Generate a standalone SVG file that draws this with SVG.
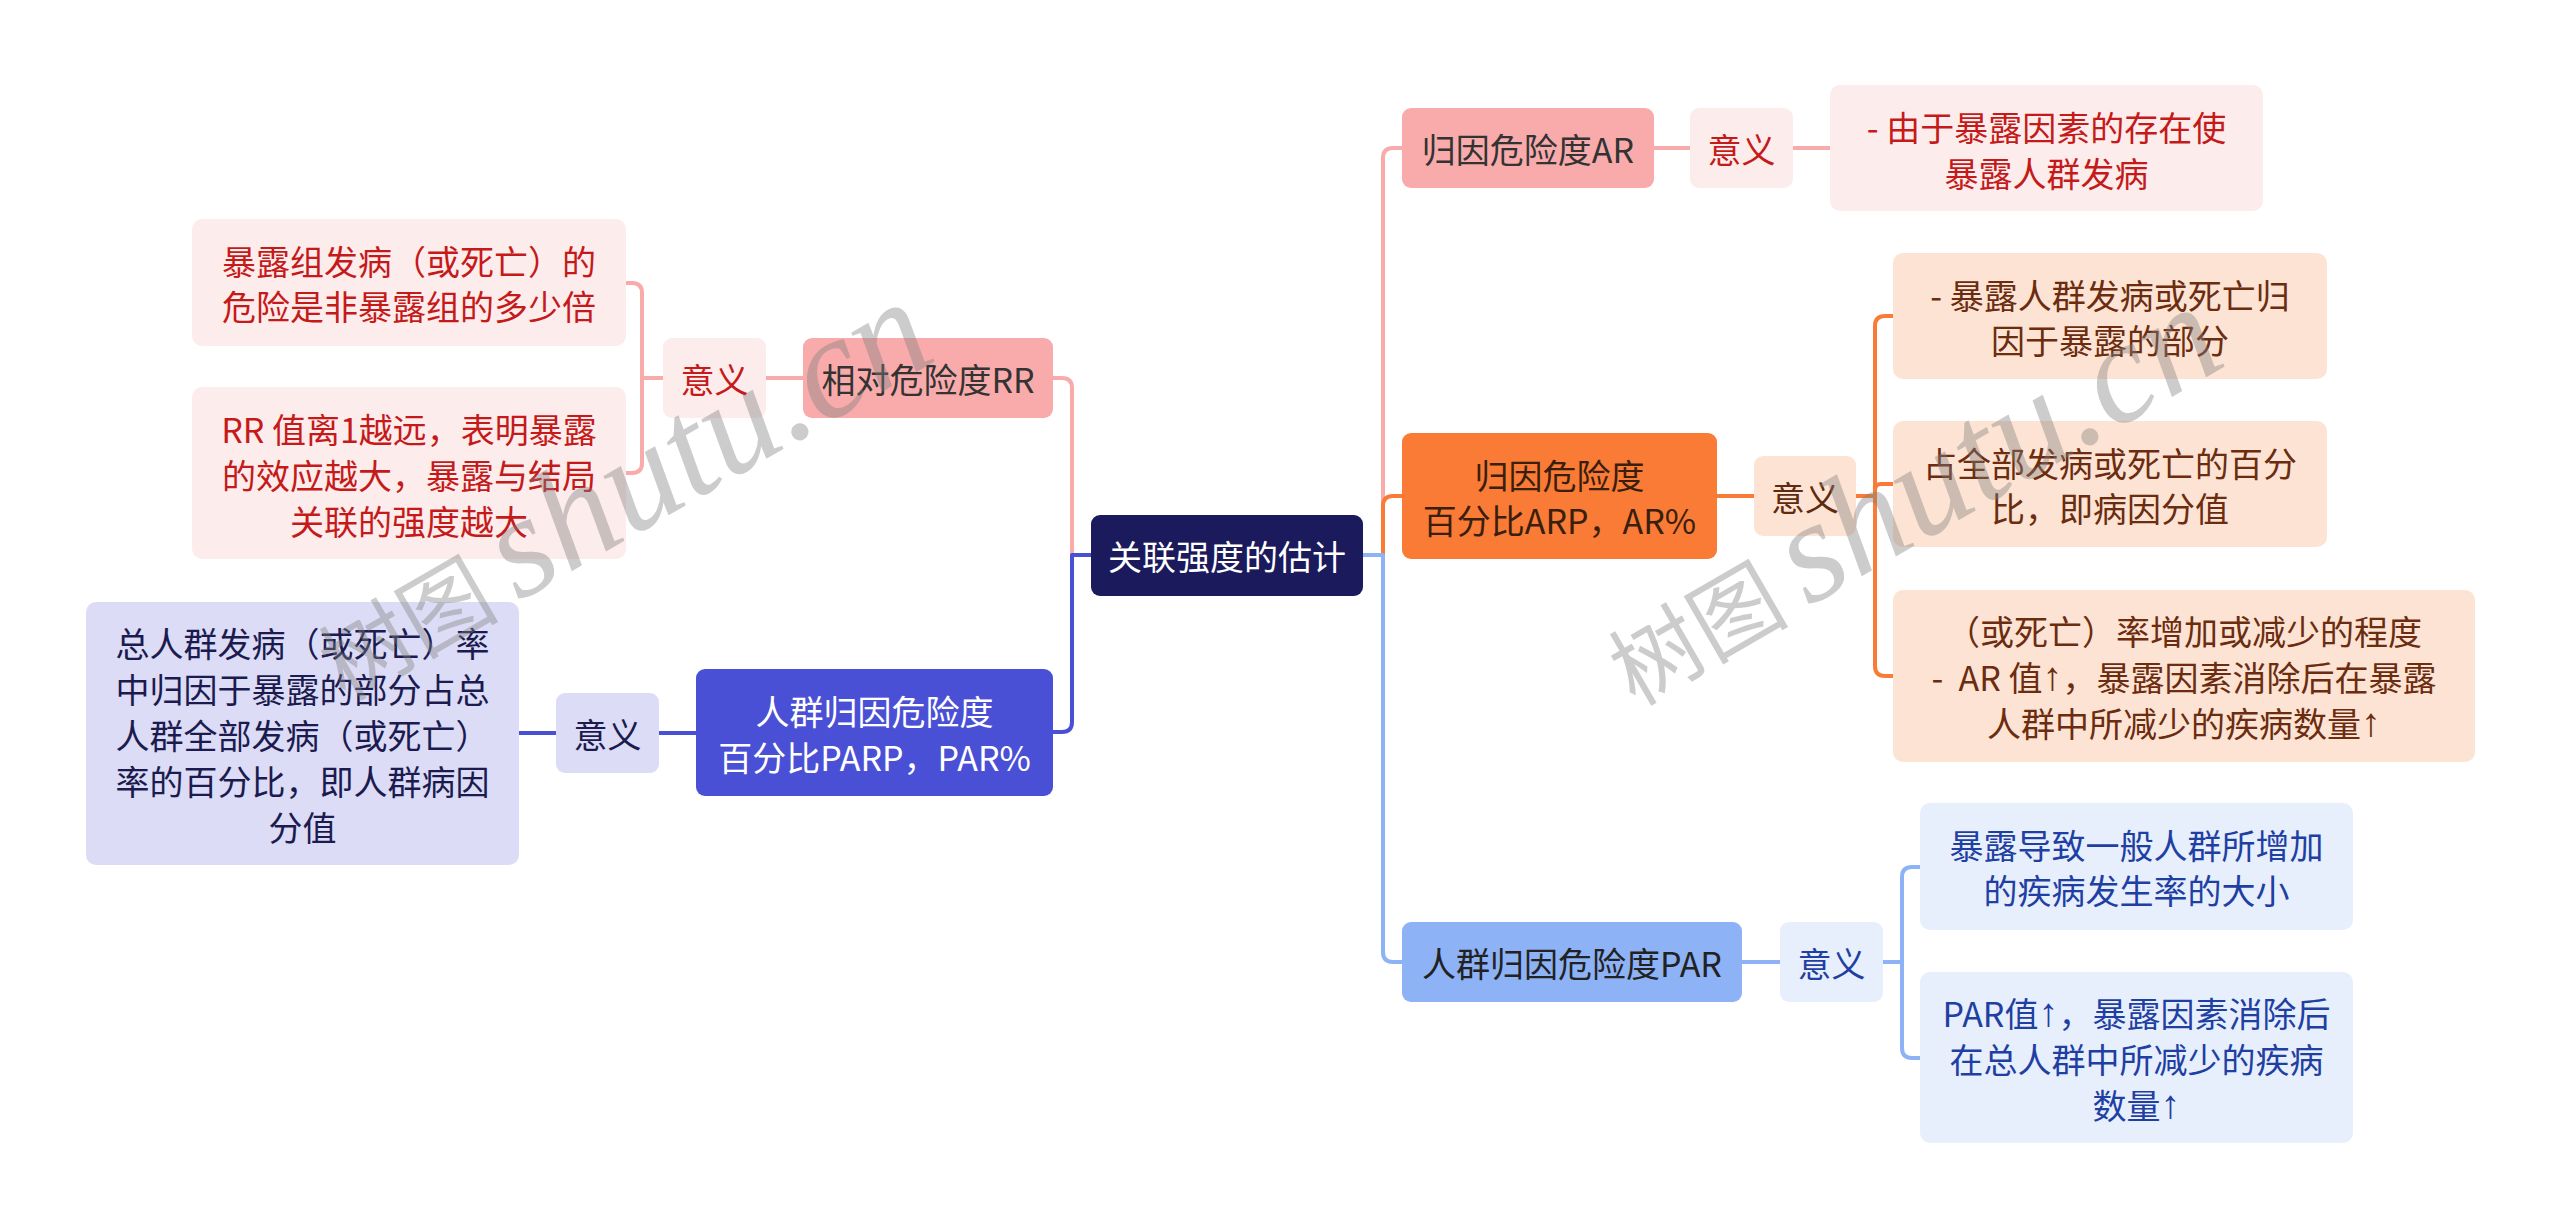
<svg xmlns="http://www.w3.org/2000/svg" width="2560" height="1229" viewBox="0 0 2560 1229">
<style>
text{font-family:"Noto Sans CJK SC","Noto Sans",sans-serif;font-size:34px;text-anchor:middle;dominant-baseline:central}
.ar{font-family:"Liberation Sans","DejaVu Sans",sans-serif;font-size:40px}
.c{fill:none;stroke-width:4;stroke-linecap:round;stroke-linejoin:round}
.pk{stroke:#f9abab}.bl{stroke:#4a50d6}.or{stroke:#f97b35}.lb{stroke:#8db3f6}
.wm{font-family:"Noto Sans CJK SC",serif;font-size:90px;text-anchor:start;dominant-baseline:alphabetic;fill:#808080;fill-opacity:0.4}
.wl{font-family:"Liberation Serif",serif;font-style:italic;font-size:145px}
</style>
<rect width="2560" height="1229" fill="#ffffff"/>
<g id="connectors">
<path class="c pk" d="M1091 555 H1072 V388 Q1072 378 1062 378 H1053"/>
<path class="c bl" d="M1091 555 H1072 V722 Q1072 732 1062 732 H1053"/>
<path class="c pk" d="M1363 555 H1383 V158 Q1383 148 1393 148 H1402"/>
<path class="c or" d="M1363 555 H1383 V506 Q1383 496 1393 496 H1402"/>
<path class="c lb" d="M1363 555 H1383 V952 Q1383 962 1393 962 H1402"/>
<path class="c pk" d="M803 378 H766"/>
<path class="c pk" d="M663 378 H642 V293 Q642 283 632 283 H626"/>
<path class="c pk" d="M663 378 H642 V463 Q642 473 632 473 H626"/>
<path class="c bl" d="M696 733 H659"/>
<path class="c bl" d="M556 733 H519"/>
<path class="c pk" d="M1654 148 H1690"/>
<path class="c pk" d="M1793 148 H1830"/>
<path class="c or" d="M1717 496 H1754"/>
<path class="c or" d="M1856 496 H1875 V326 Q1875 316 1885 316 H1893"/>
<path class="c or" d="M1856 496 H1875 V490 Q1875 484 1881 484 H1893"/>
<path class="c or" d="M1856 496 H1875 V666 Q1875 676 1885 676 H1893"/>
<path class="c lb" d="M1742 962 H1780"/>
<path class="c lb" d="M1883 962 H1902 V877 Q1902 867 1912 867 H1920"/>
<path class="c lb" d="M1883 962 H1902 V1048 Q1902 1058 1912 1058 H1920"/>
</g>
<g id="root">
<rect x="1091" y="515" width="272" height="81" rx="9" fill="#1a1a5c"/>
<text x="1227" y="555" fill="#ffffff">关联强度的估计</text>
</g>
<g id="rr">
<rect x="803" y="338" width="250" height="80" rx="9" fill="#f9abab"/>
<text x="928" y="378" fill="#333333">相对危险度RR</text>
</g>
<g id="rr-meaning">
<rect x="663" y="338" width="103" height="80" rx="9" fill="#fdecec"/>
<text x="714.5" y="378" fill="#c51a1a">意义</text>
</g>
<g id="rr-t1">
<rect x="192" y="219" width="434" height="127" rx="10" fill="#fdecec"/>
<text x="409" y="260" fill="#c51a1a">暴露组发病（或死亡）的</text>
<text x="409" y="305" fill="#c51a1a">危险是非暴露组的多少倍</text>
</g>
<g id="rr-t2">
<rect x="192" y="387" width="434" height="172" rx="10" fill="#fdecec"/>
<text x="409" y="428" fill="#c51a1a">RR 值离1越远，表明暴露</text>
<text x="409" y="474" fill="#c51a1a">的效应越大，暴露与结局</text>
<text x="409" y="520" fill="#c51a1a">关联的强度越大</text>
</g>
<g id="parp">
<rect x="696" y="669" width="357" height="127" rx="9" fill="#4a50d6"/>
<text x="874.5" y="710" fill="#ffffff">人群归因危险度</text>
<text x="874.5" y="756" fill="#ffffff">百分比PARP，PAR%</text>
</g>
<g id="parp-meaning">
<rect x="556" y="693" width="103" height="80" rx="9" fill="#dcdcf6"/>
<text x="607.5" y="733" fill="#1b1b4f">意义</text>
</g>
<g id="parp-t">
<rect x="86" y="602" width="433" height="263" rx="10" fill="#dcdcf6"/>
<text x="302.5" y="642" fill="#1b1b4f">总人群发病（或死亡）率</text>
<text x="302.5" y="688" fill="#1b1b4f">中归因于暴露的部分占总</text>
<text x="302.5" y="734" fill="#1b1b4f">人群全部发病（或死亡）</text>
<text x="302.5" y="780" fill="#1b1b4f">率的百分比，即人群病因</text>
<text x="302.5" y="826" fill="#1b1b4f">分值</text>
</g>
<g id="ar">
<rect x="1402" y="108" width="252" height="80" rx="9" fill="#f9abab"/>
<text x="1528" y="148" fill="#333333">归因危险度AR</text>
</g>
<g id="ar-meaning">
<rect x="1690" y="108" width="103" height="80" rx="9" fill="#fdecec"/>
<text x="1741.5" y="148" fill="#c51a1a">意义</text>
</g>
<g id="ar-t">
<rect x="1830" y="85" width="433" height="126" rx="10" fill="#fdecec"/>
<text x="2046.5" y="126" fill="#c51a1a">- 由于暴露因素的存在使</text>
<text x="2046.5" y="172" fill="#c51a1a">暴露人群发病</text>
</g>
<g id="arp">
<rect x="1402" y="433" width="315" height="126" rx="9" fill="#f97b35"/>
<text x="1559.5" y="474" fill="#3a1e0e">归因危险度</text>
<text x="1559.5" y="519" fill="#3a1e0e">百分比ARP，AR%</text>
</g>
<g id="arp-meaning">
<rect x="1754" y="456" width="102" height="80" rx="9" fill="#fde3d3"/>
<text x="1805" y="496" fill="#5e2a10">意义</text>
</g>
<g id="arp-t1">
<rect x="1893" y="253" width="434" height="126" rx="10" fill="#fde3d3"/>
<text x="2110" y="294" fill="#6b2c10">- 暴露人群发病或死亡归</text>
<text x="2110" y="339" fill="#6b2c10">因于暴露的部分</text>
</g>
<g id="arp-t2">
<rect x="1893" y="421" width="434" height="126" rx="10" fill="#fde3d3"/>
<text x="2110" y="462" fill="#6b2c10">占全部发病或死亡的百分</text>
<text x="2110" y="507" fill="#6b2c10">比，即病因分值</text>
</g>
<g id="arp-t3">
<rect x="1893" y="590" width="582" height="172" rx="10" fill="#fde3d3"/>
<text x="2184" y="630" fill="#6b2c10">（或死亡）率增加或减少的程度</text>
<text x="2184" y="676" fill="#6b2c10" xml:space="preserve">-  AR 值<tspan class="ar">↑</tspan>，暴露因素消除后在暴露</text>
<text x="2184" y="722" fill="#6b2c10">人群中所减少的疾病数量<tspan class="ar">↑</tspan></text>
</g>
<g id="par">
<rect x="1402" y="922" width="340" height="80" rx="9" fill="#8db3f6"/>
<text x="1572" y="962" fill="#222222">人群归因危险度PAR</text>
</g>
<g id="par-meaning">
<rect x="1780" y="922" width="103" height="80" rx="9" fill="#e7effc"/>
<text x="1831.5" y="962" fill="#1f3fa3">意义</text>
</g>
<g id="par-t1">
<rect x="1920" y="803" width="433" height="127" rx="10" fill="#e7effc"/>
<text x="2136.5" y="844" fill="#1f3fa3">暴露导致一般人群所增加</text>
<text x="2136.5" y="889" fill="#1f3fa3">的疾病发生率的大小</text>
</g>
<g id="par-t2">
<rect x="1920" y="972" width="433" height="171" rx="10" fill="#e7effc"/>
<text x="2136.5" y="1012" fill="#1f3fa3">PAR值<tspan class="ar">↑</tspan>，暴露因素消除后</text>
<text x="2136.5" y="1058" fill="#1f3fa3">在总人群中所减少的疾病</text>
<text x="2136.5" y="1104" fill="#1f3fa3">数量<tspan class="ar">↑</tspan></text>
</g>
<g id="watermarks">
<text class="wm" x="345" y="702" transform="rotate(-30 345 702)">树图 <tspan class="wl">shutu.cn</tspan></text>
<text class="wm" x="1635" y="707" transform="rotate(-30 1635 707)">树图 <tspan class="wl">shutu.cn</tspan></text>
</g>
</svg>
